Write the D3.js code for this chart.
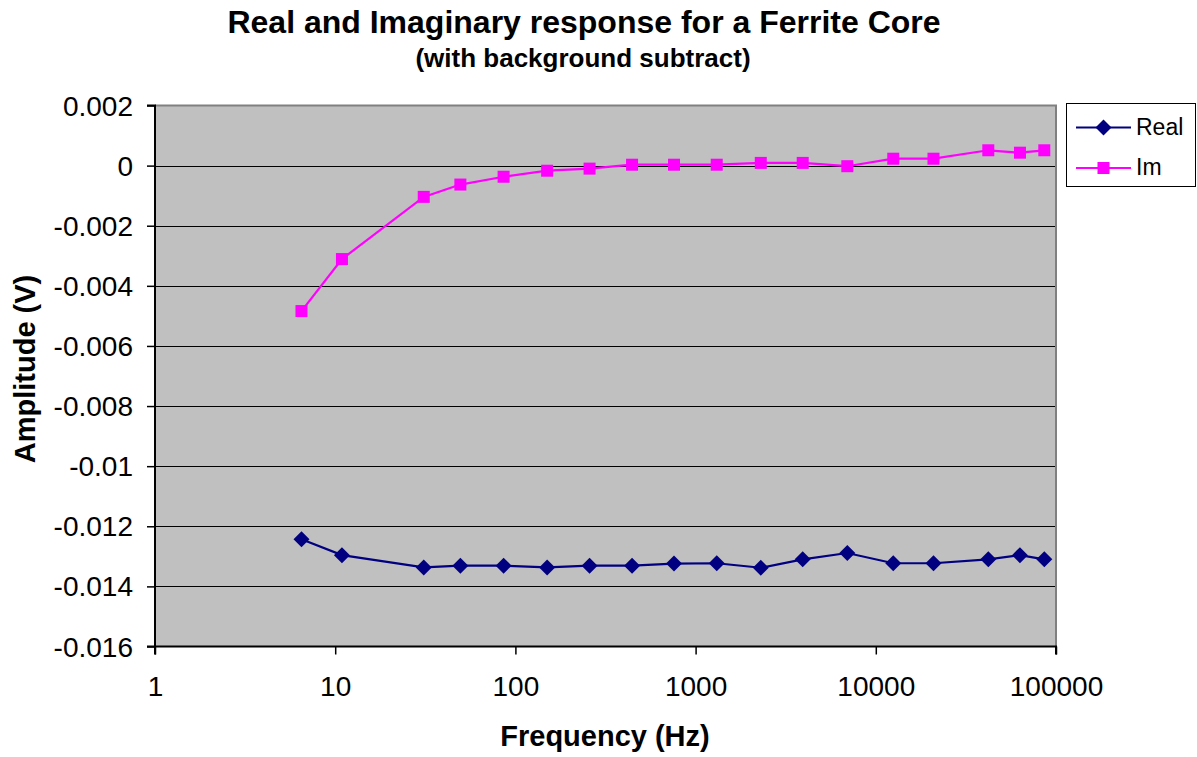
<!DOCTYPE html>
<html><head><meta charset="utf-8">
<script src="https://cdn.jsdelivr.net/npm/d3@7"></script>
<style>body{margin:0;background:#fff}text{font-family:"Liberation Sans",Arial,sans-serif}</style>
</head><body><svg id="c" width="1197" height="757"></svg>
<script>
const frequencies = [6.5, 10.9, 31, 49.5, 86, 150, 258, 444, 759, 1310, 2300, 3930, 6950, 12500, 20900, 42100, 63100, 86100];
const realValues = [-0.01243, -0.01296, -0.01337, -0.01331, -0.01331, -0.01337, -0.01331, -0.01331, -0.01324, -0.01323, -0.01338, -0.01310, -0.01289, -0.01323, -0.01323, -0.01310, -0.01296, -0.01310];
const imValues = [-0.00484, -0.00311, -0.00104, -0.00063, -0.00037, -0.00017, -0.0001, 0.00003, 0.00003, 0.00003, 0.00009, 0.00009, -0.00002, 0.00023, 0.00023, 0.00051, 0.00043, 0.00051];
const xTicks = [1, 10, 100, 1000, 10000, 100000];
const yTicks = [0.002, 0, -0.002, -0.004, -0.006, -0.008, -0.01, -0.012, -0.014, -0.016];
const seriesNames = ["Real", "Im"];

const svg = d3.select("#c");
const L = 155, R = 1056, T = 105.5, B = 646.5;
const x = d3.scaleLog().domain([1, 100000]).range([L, R]);
const y = d3.scaleLinear().domain([-0.016, 0.002]).range([B, T]);

svg.append("rect").attr("x", L).attr("y", T).attr("width", R - L).attr("height", B - T).attr("fill", "#c0c0c0");
// gridlines
svg.append("g").selectAll("line").data(yTicks.filter(d => d !== 0.002 && d !== -0.016)).join("line")
  .attr("x1", L).attr("x2", R).attr("y1", d => Math.round(y(d)) + 0.5).attr("y2", d => Math.round(y(d)) + 0.5)
  .attr("stroke", "#000").attr("stroke-width", 1);
// top/right border
svg.append("path").attr("d", `M${L},${T}H${R}V${B}`).attr("fill", "none").attr("stroke", "#808080").attr("stroke-width", 2);

const fmtY = d => d === 0 ? "0" : String(+d.toFixed(3));
const yAxis = d3.axisLeft(y).tickValues(yTicks).tickFormat(fmtY).tickSize(8).tickPadding(14);
const gy = svg.append("g").attr("transform", `translate(${L},0)`).call(yAxis);
gy.select(".domain").attr("stroke", "#000").attr("stroke-width", 2).attr("d", `M-8,${T}H0V${B}H-8`);
gy.selectAll(".tick line").attr("stroke", "#000").attr("stroke-width", 1.5);
gy.selectAll("text").attr("font-size", 28).attr("fill", "#000").attr("dy", "0.34em").style("font-family", '"Liberation Sans", Arial, sans-serif');

const xAxis = d3.axisBottom(x).tickValues(xTicks).tickFormat(d3.format("d")).tickSize(8).tickPadding(22);
const gx = svg.append("g").attr("transform", `translate(0,${B})`).call(xAxis);
gx.select(".domain").attr("stroke", "#000").attr("stroke-width", 2).attr("d", `M${L},8V0H${R}V8`);
gx.selectAll(".tick line").attr("stroke", "#000").attr("stroke-width", 1.5);
gx.selectAll("text").attr("font-size", 28).attr("fill", "#000").attr("dy", "0.71em").style("font-family", '"Liberation Sans", Arial, sans-serif');

const line = d3.line().x(d => x(d[0])).y(d => y(d[1]));
const realData = frequencies.map((f, i) => [f, realValues[i]]);
const imData = frequencies.map((f, i) => [f, imValues[i]]);
const colors = { Real: "#000080", Im: "#ff00ff" };

svg.append("path").datum(imData).attr("d", line).attr("fill", "none").attr("stroke", colors.Im).attr("stroke-width", 2.2);
svg.append("path").datum(realData).attr("d", line).attr("fill", "none").attr("stroke", colors.Real).attr("stroke-width", 2.2);

const diamond = d3.symbol().type(d3.symbolSquare).size(128);
svg.append("g").selectAll("path").data(realData).join("path")
  .attr("d", diamond).attr("transform", d => `translate(${x(d[0])},${y(d[1])}) rotate(45)`).attr("fill", colors.Real);
svg.append("g").selectAll("rect").data(imData).join("rect")
  .attr("x", d => x(d[0]) - 6).attr("y", d => y(d[1]) - 6).attr("width", 12).attr("height", 12).attr("fill", colors.Im);

// titles
svg.append("text").attr("x", 584).attr("y", 33).attr("text-anchor", "middle").attr("font-size", 32).attr("font-weight", "bold").text("Real and Imaginary response for a Ferrite Core");
svg.append("text").attr("x", 583).attr("y", 67).attr("text-anchor", "middle").attr("font-size", 26).attr("font-weight", "bold").text("(with background subtract)");
svg.append("text").attr("x", 605).attr("y", 746).attr("text-anchor", "middle").attr("font-size", 29).attr("font-weight", "bold").text("Frequency (Hz)");
svg.append("text").attr("transform", "translate(35,369) rotate(-90)").attr("text-anchor", "middle").attr("font-size", 29).attr("font-weight", "bold").text("Amplitude (V)");

// legend
const lg = svg.append("g");
lg.append("rect").attr("x", 1066.5).attr("y", 103.5).attr("width", 129).attr("height", 83).attr("fill", "#fff").attr("stroke", "#000").attr("stroke-width", 1);
const ly = [127.5, 168];
seriesNames.forEach((n, i) => {
  lg.append("line").attr("x1", 1076).attr("x2", 1131).attr("y1", ly[i]).attr("y2", ly[i]).attr("stroke", colors[n]).attr("stroke-width", 2.2);
  if (n === "Real") lg.append("path").attr("d", diamond).attr("transform", `translate(1103.5,${ly[i]}) rotate(45)`).attr("fill", colors[n]);
  else lg.append("rect").attr("x", 1097.5).attr("y", ly[i] - 6).attr("width", 12).attr("height", 12).attr("fill", colors[n]);
  lg.append("text").attr("x", 1136).attr("y", ly[i] + 7).attr("font-size", 23).text(n);
});
</script></body></html>
